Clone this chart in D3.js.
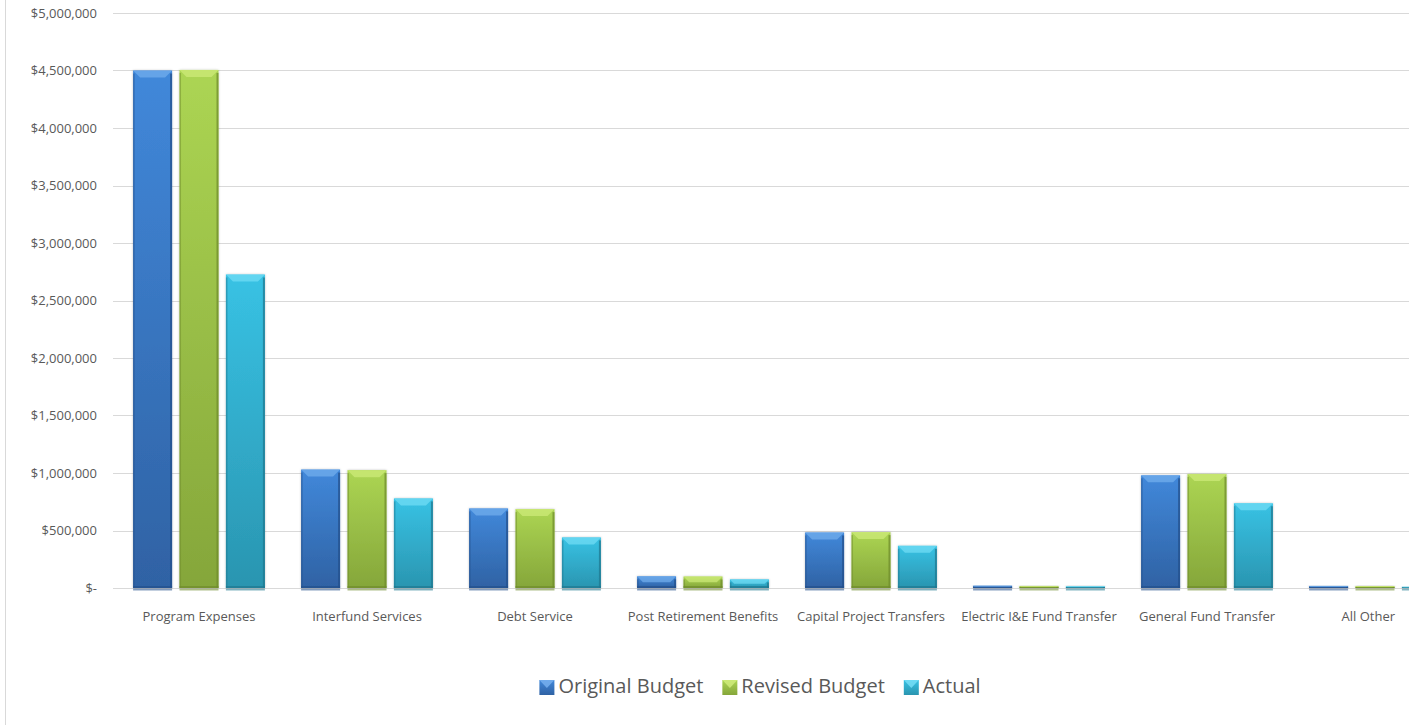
<!DOCTYPE html>
<html>
<head>
<meta charset="utf-8">
<script src="https://cdn.jsdelivr.net/npm/d3@7"></script>
<style>
  body { margin: 0; background: #fff; }
  svg { display: block; font-family: "Open Sans", sans-serif; }
</style>
</head>
<body>
<div id="chart"></div>
<script>
const categories = ["Program Expenses", "Interfund Services", "Debt Service", "Post Retirement Benefits",
    "Capital Project Transfers", "Electric I&E Fund Transfer", "General Fund Transfer", "All Other"];
const seriesNames = ["Original Budget", "Revised Budget", "Actual"];
const originalBudget = [4500000, 1030000, 692000, 102000, 483000, 20000, 980000, 18000];
const revisedBudget = [4505000, 1025000, 686000, 100000, 486000, 18000, 992000, 17000];
const actual = [2726000, 779000, 440000, 75000, 367000, 15000, 737000, 10000];
const yTicks = [0, 500000, 1000000, 1500000, 2000000, 2500000, 3000000, 3500000, 4000000, 4500000, 5000000];

const palette = [
    {top: "#4188da", bottom: "#2f62a4", light: "#7ab3f0", edge: "#24508c"},
    {top: "#acd553", bottom: "#85a63a", light: "#d2ee7e", edge: "#6f8c2c"},
    {top: "#38c2e4", bottom: "#2a95b0", light: "#7ae0f8", edge: "#1f7890"}
];

function drawChart() {
    const width = 1409, height = 725;
    const plotLeft = 113, zeroY = 588, topY = 13;

    const svg = d3.select("#chart").append("svg")
        .attr("width", width)
        .attr("height", height);

    const defs = svg.append("defs");
    palette.forEach((p, i) => {
        const g = defs.append("linearGradient")
            .attr("id", "grad" + i)
            .attr("x1", 0).attr("y1", 0).attr("x2", 0).attr("y2", 1);
        g.append("stop").attr("offset", "0%").attr("stop-color", p.top);
        g.append("stop").attr("offset", "100%").attr("stop-color", p.bottom);
    });
    const f = defs.append("filter").attr("id", "shadow")
        .attr("x", "-20%").attr("y", "-20%").attr("width", "140%").attr("height", "140%");
    f.append("feDropShadow").attr("dx", 0).attr("dy", 0).attr("stdDeviation", 1)
        .attr("flood-color", "#000").attr("flood-opacity", 0.25);

    // chart frame edge
    svg.append("line")
        .attr("x1", 5.5).attr("x2", 5.5).attr("y1", 0).attr("y2", height)
        .attr("stroke", "#d9d9d9");

    const y = d3.scaleLinear().domain([0, 5000000]).range([zeroY, topY]);

    const x0 = d3.scaleBand()
        .domain(categories)
        .range([115, 115 + 168 * categories.length])
        .padding(0);

    const x1 = d3.scaleBand()
        .domain(seriesNames)
        .range([0, x0.bandwidth()])
        .paddingInner(0.16)
        .paddingOuter(0.39);

    const fmt = d3.format(",");

    // gridlines
    svg.append("g").selectAll("line")
        .data(yTicks)
        .join("line")
            .attr("x1", plotLeft).attr("x2", width)
            .attr("y1", d => Math.round(y(d)) + 0.5)
            .attr("y2", d => Math.round(y(d)) + 0.5)
            .attr("stroke", "#d9d9d9")
            .attr("stroke-width", 1);

    svg.append("g").selectAll("text")
        .data(yTicks)
        .join("text")
            .attr("x", 97)
            .attr("y", d => y(d))
            .attr("dy", "0.35em")
            .attr("text-anchor", "end")
            .style("font-size", "13px")
            .style("fill", "#595959")
            .text(d => d === 0 ? "$-" : "$" + fmt(d));

    const rows = categories.map((c, i) => ({
        category: c,
        values: [originalBudget[i], revisedBudget[i], actual[i]]
    }));

    const bars = [];
    rows.forEach(r => {
        r.values.forEach((v, k) => {
            const bx = x0(r.category) + x1(seriesNames[k]);
            const by = y(v);
            bars.push({x: bx, y: by, w: x1.bandwidth(), h: zeroY - by, k: k});
        });
    });

    const barG = svg.append("g");

    // reflection strip under baseline
    barG.selectAll(".under")
        .data(bars)
        .join("rect")
            .attr("class", "under")
            .attr("x", d => d.x)
            .attr("y", zeroY + 0.5)
            .attr("width", d => d.w)
            .attr("height", 2)
            .attr("fill", d => palette[d.k].edge)
            .attr("opacity", 0.55);

    const bar = barG.selectAll(".bar")
        .data(bars)
        .join("g")
            .attr("class", "bar");

    bar.append("rect")
        .attr("x", d => d.x)
        .attr("y", d => d.y)
        .attr("width", d => d.w)
        .attr("height", d => d.h)
        .attr("fill", d => "url(#grad" + d.k + ")")
        .attr("filter", "url(#shadow)");

    // bevel: top highlight
    bar.append("polygon")
        .attr("points", d => {
            const b = Math.min(7, d.h / 2);
            return [[d.x, d.y], [d.x + d.w, d.y], [d.x + d.w - b, d.y + b], [d.x + b, d.y + b]]
                .map(p => p.join(",")).join(" ");
        })
        .attr("fill", d => palette[d.k].light)
        .attr("opacity", 0.65);

    // bevel: side edges
    bar.append("rect")
        .attr("x", d => d.x)
        .attr("y", d => d.y + Math.min(3, d.h / 2))
        .attr("width", 1.5)
        .attr("height", d => Math.max(0, d.h - Math.min(3, d.h / 2)))
        .attr("fill", d => palette[d.k].edge)
        .attr("opacity", 0.5);

    bar.append("rect")
        .attr("x", d => d.x + d.w - 2)
        .attr("y", d => d.y + Math.min(3, d.h / 2))
        .attr("width", 2)
        .attr("height", d => Math.max(0, d.h - Math.min(3, d.h / 2)))
        .attr("fill", d => palette[d.k].edge)
        .attr("opacity", 0.75);

    bar.append("rect")
        .attr("x", d => d.x)
        .attr("y", d => zeroY - Math.min(2, d.h / 2))
        .attr("width", d => d.w)
        .attr("height", d => Math.min(2, d.h / 2))
        .attr("fill", d => palette[d.k].edge)
        .attr("opacity", 0.7);

    // category labels
    svg.append("g").selectAll("text")
        .data(categories)
        .join("text")
            .attr("x", d => x0(d) + x0.bandwidth() / 2)
            .attr("y", 621)
            .attr("text-anchor", "middle")
            .style("font-size", "13px")
            .style("fill", "#595959")
            .text(d => d)
            .each(function() {
                const w = this.getComputedTextLength();
                const cx = +d3.select(this).attr("x");
                if (cx + w / 2 > width - 14) d3.select(this).attr("x", width - 14 - w / 2);
            });

    // legend
    const legend = svg.append("g");
    const items = legend.selectAll(".item")
        .data(seriesNames)
        .join("g")
            .attr("class", "item");

    items.append("rect")
        .attr("width", 15).attr("height", 15)
        .attr("y", 680)
        .attr("fill", (d, i) => "url(#grad" + i + ")");

    items.append("polygon")
        .attr("points", "0,680 15,680 7.5,688")
        .attr("fill", (d, i) => palette[i].light)
        .attr("opacity", 0.8);

    items.append("text")
        .attr("x", 19)
        .attr("y", 693)
        .style("font-size", "20px")
        .style("fill", "#595959")
        .text(d => d);

    let offsets = [], total = 0;
    items.each(function() {
        const w = 19 + d3.select(this).select("text").node().getComputedTextLength();
        offsets.push(total);
        total += w + 19;
    });
    total -= 19;
    const startX = 760 - total / 2;
    items.attr("transform", (d, i) => "translate(" + (startX + offsets[i]) + ",0)");
}

drawChart();
</script>
</body>
</html>
